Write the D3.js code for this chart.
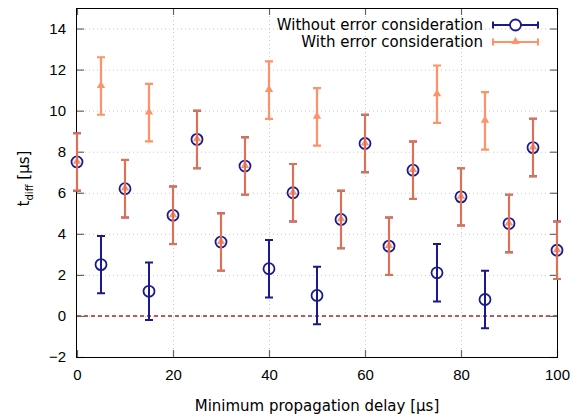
<!DOCTYPE html>
<html>
<head>
<meta charset="utf-8">
<script src="https://cdn.jsdelivr.net/npm/d3@7"></script>
<style>
  body { margin: 0; background: #fff; }
  svg { display: block; font-family: "DejaVu Sans", Verdana, sans-serif; }
</style>
</head>
<body>
<div id="chart"></div>
<script>
// Delay values [µs]
const delays = [0, 5, 10, 15, 20, 25, 30, 35, 40, 45, 50, 55, 60, 65, 70, 75, 80, 85, 90, 95, 100];
// t_diff without error consideration
const withoutErr = [7.5, 2.5, 6.2, 1.2, 4.9, 8.6, 3.6, 7.3, 2.3, 6.0, 1.0, 4.7, 8.4, 3.4, 7.1, 2.1, 5.8, 0.8, 4.5, 8.2, 3.2];
// t_diff with error consideration
const withErr = [7.5, 11.2, 6.2, 9.9, 4.9, 8.6, 3.6, 7.3, 11.0, 6.0, 9.7, 4.7, 8.4, 3.4, 7.1, 10.8, 5.8, 9.5, 4.5, 8.2, 3.2];
// error bar half-widths
const errWithout = [1.4, 1.4, 1.4, 1.4, 1.4, 1.4, 1.4, 1.4, 1.4, 1.4, 1.4, 1.4, 1.4, 1.4, 1.4, 1.4, 1.4, 1.4, 1.4, 1.4, 1.4];
const errWith = [1.4, 1.4, 1.4, 1.4, 1.4, 1.4, 1.4, 1.4, 1.4, 1.4, 1.4, 1.4, 1.4, 1.4, 1.4, 1.4, 1.4, 1.4, 1.4, 1.4, 1.4];

const xTicks = [0, 20, 40, 60, 80, 100];
const yTicks = [-2, 0, 2, 4, 6, 8, 10, 12, 14];
const seriesNames = ['Without error consideration', 'With error consideration'];

const W = 582, H = 420;
const margin = { top: 8, right: 25, bottom: 63, left: 77 };
const width = W - margin.left - margin.right;
const height = H - margin.top - margin.bottom;

const blue = '#1a1a8c';
const orange = '#ff7f50';
const orangeOpacity = 0.85;
const fs = '15px';

const svg = d3.select('#chart').append('svg')
    .attr('width', W)
    .attr('height', H);

const g = svg.append('g')
    .attr('transform', `translate(${margin.left},${margin.top})`);

const x = d3.scaleLinear().domain([0, 100]).range([0, width]);
const y = d3.scaleLinear().domain([-2, 15]).range([height, 0]);

// Grid lines (dotted)
g.append('g')
    .selectAll('line')
    .data(yTicks)
    .enter()
    .append('line')
    .attr('x1', 0).attr('x2', width)
    .attr('y1', d => y(d) + 0.5).attr('y2', d => y(d) + 0.5)
    .attr('stroke', '#c8c8c8')
    .attr('stroke-dasharray', '1,3');

g.append('g')
    .selectAll('line')
    .data(xTicks.slice(1, -1))
    .enter()
    .append('line')
    .attr('x1', d => x(d) + 0.5).attr('x2', d => x(d) + 0.5)
    .attr('y1', 0).attr('y2', height)
    .attr('stroke', '#c8c8c8')
    .attr('stroke-dasharray', '1,3');

// Zero line
g.append('line')
    .attr('x1', 0).attr('x2', width)
    .attr('y1', y(0)).attr('y2', y(0))
    .attr('stroke', '#b22222')
    .attr('stroke-width', 1.5)
    .attr('stroke-dasharray', '4,3');

// Axes
function styleAxis(sel) {
    sel.select('.domain').remove();
    sel.selectAll('.tick line').attr('stroke', '#666').attr('stroke-width', 1.2);
    sel.selectAll('.tick text').style('font-size', fs).attr('fill', '#000');
}

g.append('g')
    .attr('transform', `translate(0,${height})`)
    .call(d3.axisBottom(x).tickValues(xTicks).tickSize(-7).tickPadding(12))
    .call(styleAxis);

g.append('g')
    .call(d3.axisTop(x).tickValues(xTicks).tickSize(-7).tickFormat(''))
    .call(styleAxis);

g.append('g')
    .call(d3.axisLeft(y).tickValues(yTicks).tickSize(-7).tickPadding(11))
    .call(styleAxis);

g.append('g')
    .attr('transform', `translate(${width},0)`)
    .call(d3.axisRight(y).tickValues(yTicks).tickSize(-7).tickFormat(''))
    .call(styleAxis);

// Frame
g.append('rect')
    .attr('x', -0.5).attr('y', 0.5)
    .attr('width', width + 1).attr('height', height)
    .attr('fill', 'none')
    .attr('stroke', '#000')
    .attr('stroke-width', 1);

// Axis titles
svg.append('text')
    .attr('x', margin.left + width / 2)
    .attr('y', 411)
    .attr('text-anchor', 'middle')
    .style('font-size', fs)
    .text('Minimum propagation delay [µs]');

const yl = svg.append('text')
    .attr('transform', `translate(29,${margin.top + height / 2 - 4}) rotate(-90)`)
    .attr('text-anchor', 'middle')
    .style('font-size', fs);
yl.append('tspan').text('t');
yl.append('tspan').attr('dy', 4).style('font-size', '10px').text('diff');
yl.append('tspan').attr('dy', -4).text(' [µs]');

// Error bar helper
function drawErrorBars(layer, vals, errs, color, sw) {
    const cap = 4;
    const idx = d3.range(delays.length);
    layer.selectAll('.eb')
        .data(idx)
        .enter()
        .append('path')
        .attr('d', i => {
            const cx = x(delays[i]);
            const y1 = y(vals[i] - errs[i]);
            const y2 = y(vals[i] + errs[i]);
            return `M${cx},${y1}V${y2}M${cx - cap},${y1}H${cx + cap}M${cx - cap},${y2}H${cx + cap}`;
        })
        .attr('fill', 'none')
        .attr('stroke', color)
        .attr('stroke-width', sw);
}

// Without error consideration
const gBlue = g.append('g');
drawErrorBars(gBlue, withoutErr, errWithout, blue, 2);
gBlue.selectAll('circle')
    .data(d3.range(delays.length))
    .enter()
    .append('circle')
    .attr('cx', i => x(delays[i]))
    .attr('cy', i => y(withoutErr[i]))
    .attr('r', 5.5)
    .attr('fill', 'none')
    .attr('stroke', blue)
    .attr('stroke-width', 1.8);

// With error consideration (semi-transparent)
const gOrange = g.append('g').attr('opacity', orangeOpacity);
drawErrorBars(gOrange, withErr, errWith, orange, 2.2);
const tri = d3.symbol().type(d3.symbolTriangle).size(30);
gOrange.selectAll('.tri')
    .data(d3.range(delays.length))
    .enter()
    .append('path')
    .attr('transform', i => `translate(${x(delays[i])},${y(withErr[i]) - 0.5})`)
    .attr('d', tri)
    .attr('fill', orange);

// Legend
const legend = svg.append('g');
const legendRows = [
    { name: seriesNames[0], color: blue, y: 25, marker: 'circle', op: 1 },
    { name: seriesNames[1], color: orange, y: 42, marker: 'tri', op: orangeOpacity }
];
legendRows.forEach(r => {
    legend.append('text')
        .attr('x', 483)
        .attr('y', r.y + 5)
        .attr('text-anchor', 'end')
        .style('font-size', fs)
        .text(r.name);
    const lg = legend.append('g').attr('opacity', r.op);
    lg.append('path')
        .attr('d', `M493,${r.y}H538M493,${r.y - 3.5}V${r.y + 3.5}M538,${r.y - 3.5}V${r.y + 3.5}`)
        .attr('stroke', r.color)
        .attr('stroke-width', 2)
        .attr('fill', 'none');
    if (r.marker === 'circle') {
        lg.append('circle')
            .attr('cx', 515.5).attr('cy', r.y).attr('r', 5.5)
            .attr('fill', '#fff')
            .attr('stroke', r.color)
            .attr('stroke-width', 1.8);
    } else {
        lg.append('path')
            .attr('transform', `translate(515.5,${r.y - 0.5})`)
            .attr('d', tri)
            .attr('fill', r.color);
    }
});
</script>
</body>
</html>
